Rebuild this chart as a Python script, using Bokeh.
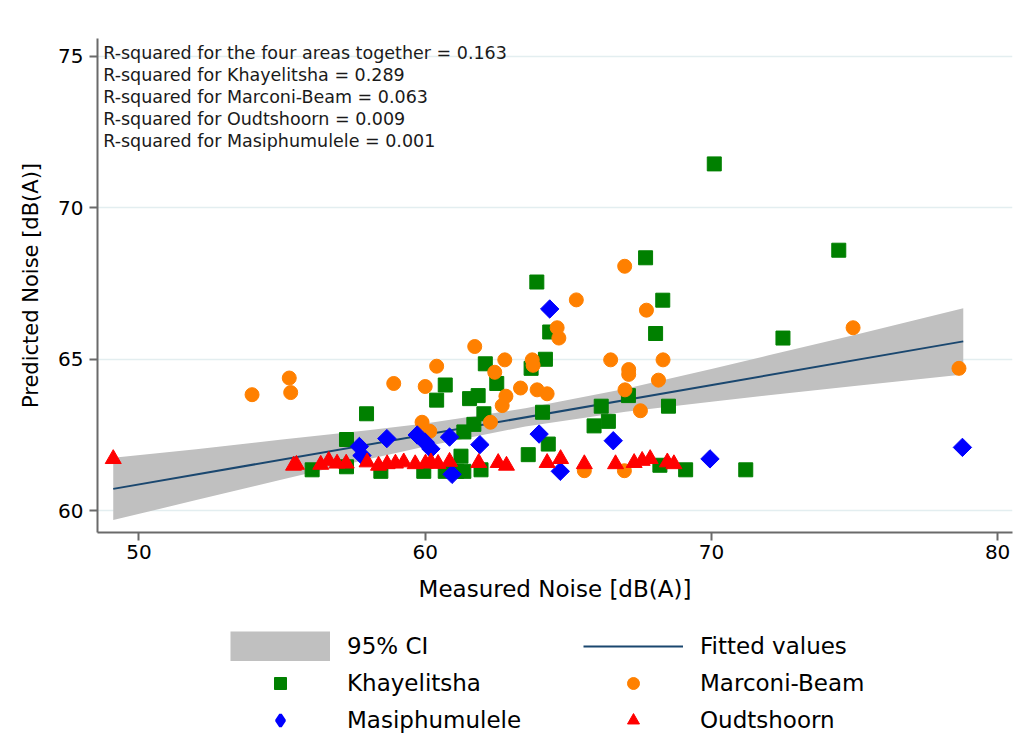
import math
from bokeh.plotting import figure
from bokeh.layouts import column
from bokeh.models import Legend, LegendItem, FixedTicker, Range1d
from bokeh.embed import file_html
from bokeh.resources import INLINE
from bokeh.core.properties import value

# ---------------- data ----------------
khay_x = [70.1, 74.45, 67.7, 63.9, 68.3, 64.35, 68.05, 72.5, 64.2, 63.7, 62.1, 62.5, 60.7, 60.4,
          61.55, 61.85, 62.05, 64.1, 61.7, 61.35, 64.3, 63.6, 61.25, 66.15, 66.4, 65.9, 67.1,
          68.5, 57.95, 57.25, 56.05, 57.25, 58.45, 59.95, 60.7, 61.1, 61.35, 61.95, 68.2, 69.1, 71.2]
khay_y = [71.45, 68.6, 68.35, 67.55, 66.95, 65.9, 65.85, 65.7, 65.0, 64.7, 64.85, 64.2, 64.15, 63.65,
          63.7, 63.8, 63.2, 63.25, 62.85, 62.6, 62.2, 61.85, 61.8, 63.45, 62.95, 62.8, 63.8,
          63.45, 63.2, 62.35, 61.35, 61.45, 61.3, 61.3, 61.3, 61.3, 61.3, 61.35, 61.5, 61.35, 61.35]

marc_x = [53.95, 55.25, 55.3, 58.9, 60.0, 60.4, 61.73, 62.78, 62.43, 63.33, 63.74, 63.77, 62.82,
          62.69, 63.91, 64.26, 62.28, 59.89, 60.16, 65.28, 64.61, 64.67, 66.97, 67.73, 66.48,
          67.11, 67.11, 66.98, 67.52, 68.31, 68.15, 65.56, 66.96, 74.95, 78.65]
marc_y = [63.83, 64.38, 63.9, 64.2, 64.1, 64.77, 65.42, 64.98, 64.57, 64.05, 64.98, 64.8, 63.78,
          63.47, 63.99, 63.86, 62.92, 62.92, 62.62, 66.96, 66.04, 65.7, 68.07, 66.62, 64.98,
          64.66, 64.5, 63.99, 63.3, 64.98, 64.31, 61.32, 61.32, 66.04, 64.7]

masi_x = [57.7, 57.79, 58.66, 59.72, 60.0, 60.2, 60.85, 61.91, 63.98, 64.35, 66.57, 64.72, 60.94, 69.95, 78.77]
masi_y = [62.12, 61.82, 62.38, 62.5, 62.26, 62.04, 62.43, 62.18, 62.53, 66.66, 62.31, 61.3, 61.2, 61.71, 62.09]

oudt_x = [49.1, 55.4, 55.5, 56.35, 56.63, 56.92, 57.24, 57.97, 58.37, 58.67, 58.96, 59.25, 59.65,
          60.01, 60.2, 60.45, 60.85, 61.87, 62.55, 62.84, 64.26, 64.73, 65.56, 66.65, 67.3, 67.58,
          67.86, 68.46, 68.69]
oudt_y = [61.71, 61.49, 61.52, 61.52, 61.65, 61.56, 61.56, 61.6, 61.49, 61.54, 61.56, 61.6, 61.54,
          61.56, 61.6, 61.55, 61.62, 61.58, 61.58, 61.49, 61.58, 61.71, 61.54, 61.54, 61.58, 61.65,
          61.71, 61.6, 61.54]

fit_x = [49.1, 78.8]
fit_y = [60.72, 65.59]

ci_x = [49.1, 52, 55, 58, 60, 63.5, 67, 70, 72, 75, 78.8]
ci_lower = [59.69, 60.35, 61.03, 61.70, 62.12, 62.78, 63.27, 63.60, 63.81, 64.12, 64.50]
ci_upper = [61.75, 62.03, 62.35, 62.66, 62.88, 63.38, 64.03, 64.68, 65.13, 65.80, 66.68]

x_ticks = [50, 60, 70, 80]
y_ticks = [60, 65, 70, 75]

notes = [
    "R-squared for the four areas together = 0.163",
    "R-squared for Khayelitsha = 0.289",
    "R-squared for Marconi-Beam = 0.063",
    "R-squared for Oudtshoorn = 0.009",
    "R-squared for Masiphumulele  = 0.001",
]

legend_labels = ["95% CI", "Fitted values", "Khayelitsha", "Marconi-Beam", "Masiphumulele", "Oudtshoorn"]

FONT = "DejaVu Sans"
GREEN, ORANGE, BLUE, RED = "#008000", "#ff8000", "#0000ff", "#ff0000"
CI_GRAY, FIT_NAVY = "#c0c0c0", "#1a476f"

# ---------------- main figure ----------------
p = figure(width=1016, height=606, output_backend="svg", toolbar_location=None,
           x_range=Range1d(48.55, 80.52), y_range=Range1d(59.28, 75.59),
           min_border_left=97, min_border_right=4, min_border_top=38, min_border_bottom=74)
p.outline_line_color = None
p.background_fill_color = "white"
p.border_fill_color = "white"

p.xgrid.visible = False
p.ygrid.grid_line_color = "#e3eef0"
p.ygrid.grid_line_width = 1.5
p.ygrid.ticker = FixedTicker(ticks=y_ticks)

for ax in (p.xaxis[0], p.yaxis[0]):
    ax.axis_line_color = "#6a6a6a"
    ax.axis_line_width = 2
    ax.major_tick_line_color = "#6a6a6a"
    ax.major_tick_line_width = 2
    ax.major_tick_in = 0
    ax.major_tick_out = 8
    ax.minor_tick_line_color = None
    ax.major_label_text_font = FONT
    ax.major_label_text_color = "black"
    ax.axis_label_text_font = FONT
    ax.axis_label_text_font_style = "normal"
    ax.axis_label_text_color = "black"

p.xaxis.ticker = FixedTicker(ticks=x_ticks)
p.yaxis.ticker = FixedTicker(ticks=y_ticks)
p.xaxis.major_label_text_font_size = "20px"
p.yaxis.major_label_text_font_size = "20px"
p.xaxis.major_label_standoff = 4
p.yaxis.major_label_standoff = 6
p.xaxis.axis_label = "Measured Noise [dB(A)]"
p.yaxis.axis_label = "Predicted Noise [dB(A)]"
p.xaxis.axis_label_text_font_size = "23px"
p.yaxis.axis_label_text_font_size = "21px"
p.xaxis.axis_label_standoff = 14
p.yaxis.axis_label_standoff = 12

p.varea(x=ci_x, y1=ci_lower, y2=ci_upper, fill_color=CI_GRAY, fill_alpha=1.0)
p.line(x=fit_x, y=fit_y, line_color=FIT_NAVY, line_width=2)

p.scatter(khay_x, khay_y, marker="square", size=14, fill_color=GREEN, line_color=GREEN)
p.scatter(marc_x, marc_y, marker="circle", size=14, fill_color=ORANGE, line_color=ORANGE)
p.scatter(masi_x, masi_y, marker="square", angle=math.pi / 4, size=13, fill_color=BLUE, line_color=BLUE)
p.scatter(oudt_x, oudt_y, marker="triangle", size=16, fill_color=RED, line_color=RED)

note_x0 = 48.75
note_top = 75.10
note_step = 0.72
p.text(x=[note_x0] * len(notes), y=[note_top - i * note_step for i in range(len(notes))],
       text=notes, text_font=value(FONT), text_font_size="17.5px", text_baseline="middle",
       text_align="left", text_color="#1a1a1a")

# ---------------- legend figure (legend keys only; renderers hidden) ----------------
q = figure(width=1016, height=130, output_backend="svg", toolbar_location=None,
           x_range=Range1d(0, 1), y_range=Range1d(0, 1), min_border=0,
           x_axis_location=None, y_axis_location=None)
q.outline_line_color = None
q.grid.visible = False

# the CI key is a full-height grey block, as in the reference
l_ci = q.line(x=ci_x, y=ci_upper, line_color=CI_GRAY, line_width=30, line_cap="butt", visible=False)
l_fit = q.line(x=fit_x, y=fit_y, line_color=FIT_NAVY, line_width=2, visible=False)
l_k = q.scatter(x=khay_x, y=khay_y, marker="square", fill_color=GREEN, line_color=GREEN, visible=False)
l_m = q.scatter(x=marc_x, y=marc_y, marker="circle", fill_color=ORANGE, line_color=ORANGE, visible=False)
l_b = q.scatter(x=masi_x, y=masi_y, marker="diamond", fill_color=BLUE, line_color=BLUE,
                line_width=3, visible=False)
l_o = q.scatter(x=oudt_x, y=oudt_y, marker="triangle", fill_color=RED, line_color=RED, visible=False)

legend = Legend(items=[LegendItem(label=lab, renderers=[r]) for lab, r in
                       zip(legend_labels, [l_ci, l_fit, l_k, l_m, l_b, l_o])],
                orientation="horizontal", ncols=2, location=(133, 1), click_policy="none",
                glyph_width=100, glyph_height=30, label_standoff=17, label_width=229, label_height=30,
                spacing=7, padding=0, margin=0, border_line_color=None, background_fill_alpha=0,
                label_text_font=FONT, label_text_font_size="23px", label_text_color="black")
q.add_layout(legend, "center")

layout = column(p, q, spacing=0)
open("out.html", "w").write(file_html(layout, INLINE))
